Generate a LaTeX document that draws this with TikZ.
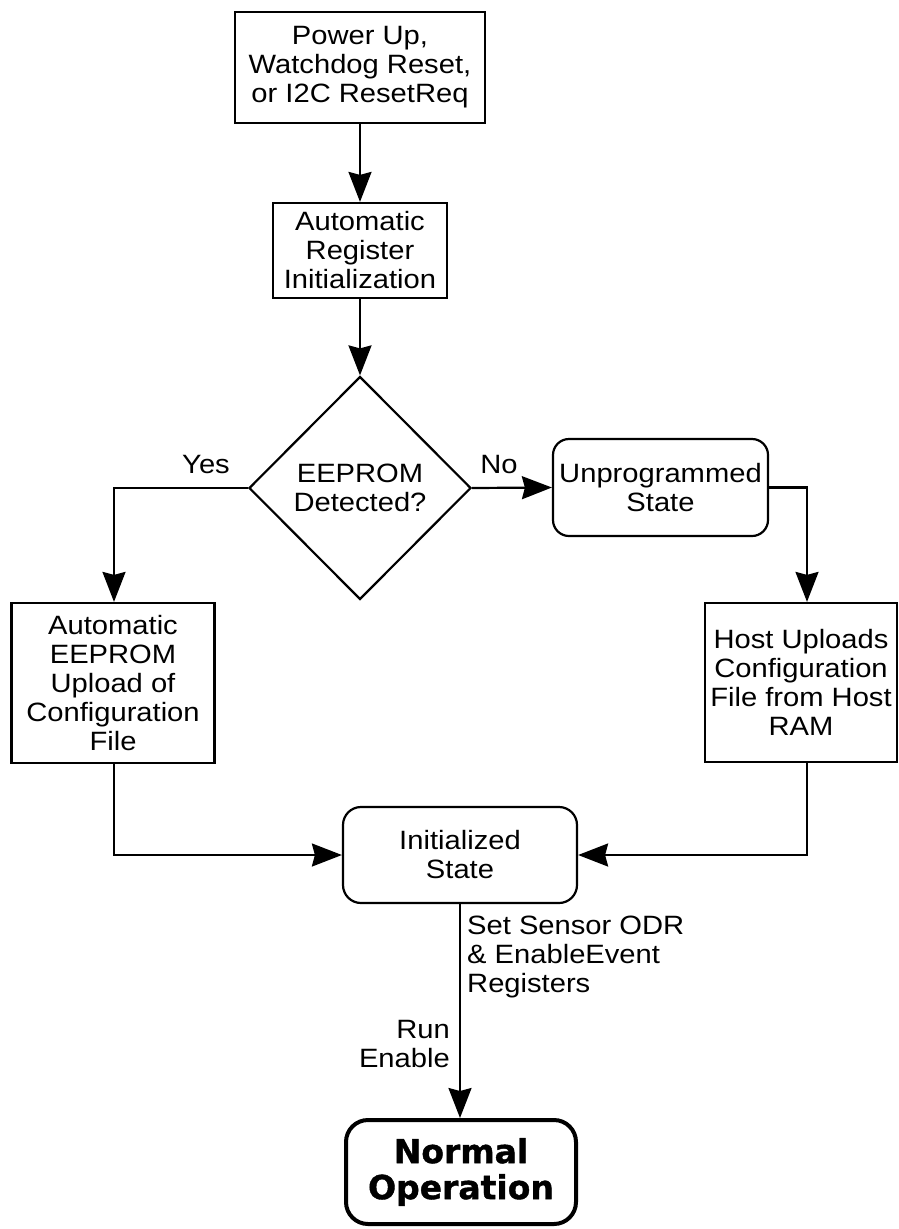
\documentclass[tikz,border=0pt]{standalone}
\usepackage{fontspec}
\setmainfont{Liberation Sans}[FakeStretch=1.1]
\newfontfamily\blackfont{DejaVu Sans Bold}[FakeBold=1.2]
\usetikzlibrary{shapes.geometric,arrows.meta,calc}
\begin{document}
\begin{tikzpicture}[x=1pt,y=-1pt,
  every node/.style={font=\fontsize{26.5}{29}\selectfont, align=center, inner sep=0pt},
  box/.style={draw, line width=2.2pt},
  rbox/.style={draw, line width=2.2pt, rounded corners=16pt},
  lbl/.style={},
  conn/.style={line width=2.2pt, -{Stealth[length=30pt,width=23pt,inset=3pt]}},
  plain/.style={line width=2.2pt}
]
\useasboundingbox (0,0) rectangle (899,1229);

\node[box, minimum width=250pt, minimum height=111pt] (start) at (360,67.5)
  {Power Up,\\Watchdog Reset,\\or I2C ResetReq};
\node[box, minimum width=174pt, minimum height=95pt] (reginit) at (360,250.5)
  {Automatic\\Register\\Initialization};
\node[draw, diamond, line width=2.2pt, minimum width=222pt, minimum height=223pt] (dec) at (360,488)
  {EEPROM\\Detected?};
\node[rbox, minimum width=215pt, minimum height=97pt] (unprog) at (660.5,487.5)
  {Unprogrammed\\State};
\node[box, minimum width=203pt, minimum height=160pt] (auto) at (113,683)
  {Automatic\\EEPROM\\Upload of\\Configuration\\File};
\node[box, minimum width=192pt, minimum height=159pt] (host) at (801,682.5)
  {Host Uploads\\Configuration\\File from Host\\RAM};
\node[rbox, rounded corners=18pt, minimum width=234pt, minimum height=96pt] (init) at (460,855)
  {Initialized\\State};
\node[draw, line width=4pt, rounded corners=22pt, minimum width=230pt, minimum height=104pt,
      font=\blackfont\fontsize{33}{36}\selectfont] (normal) at (461,1172)
  {Normal\\Operation};

\node[lbl] (yes) at (206,465) {Yes};
\node[lbl] (no) at (499,465) {No};
\node[lbl, anchor=west, align=left] (setlbl) at (467,957)
  {Set Sensor ODR\\\& EnableEvent\\Registers};
\node[lbl, anchor=east, align=right] (runlbl) at (450,1044)
  {Run\\Enable};

\draw[conn] (start.south) -- (reginit.north);
\draw[conn] (reginit.south) -- (dec.north);
\draw[conn] (dec.west) -| ($(auto.north)+(1,0)$);
\draw[conn] (dec.east) -- (unprog.west);
\draw[conn] (unprog.east) -| ($(host.north)+(6,0)$);
\draw[conn] ($(auto.south)+(1,0)$) |- (init.west);
\draw[conn] ($(host.south)+(6,0)$) |- (init.east);
\draw[conn] (init.south) -- (init.south |- normal.north);
\end{tikzpicture}
\end{document}
